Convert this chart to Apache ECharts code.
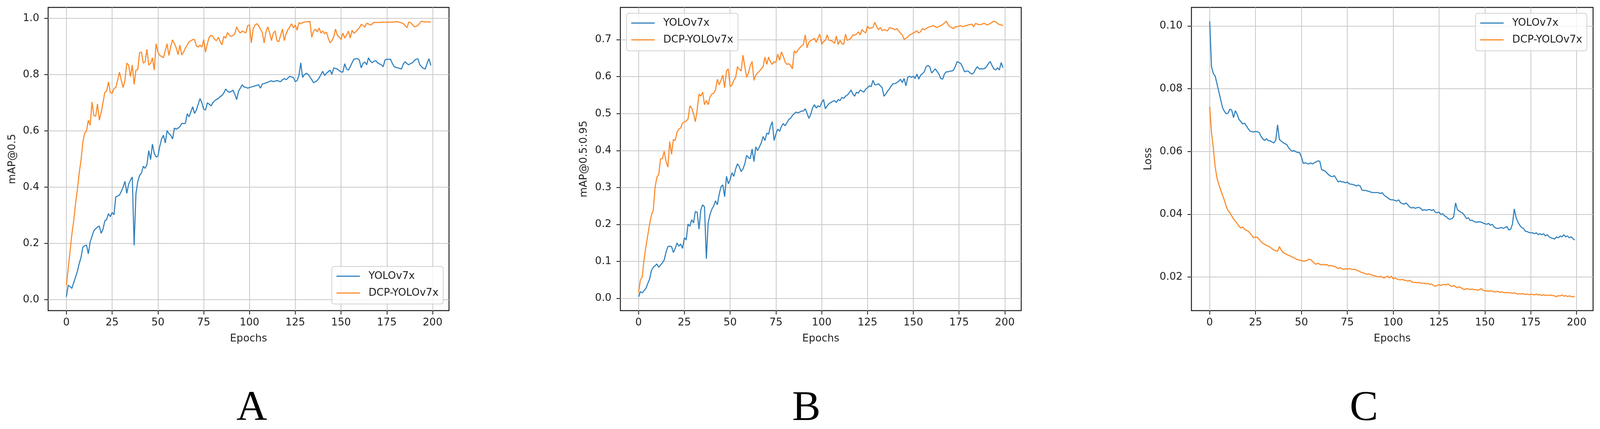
<!DOCTYPE html>
<html>
<head>
<meta charset="utf-8">
<title>YOLOv7x vs DCP-YOLOv7x</title>
<script src="https://cdn.jsdelivr.net/npm/echarts/dist/echarts.min.js"></script>
<style>
  html, body { margin: 0; padding: 0; background: #fff; overflow: hidden; }
  #chart { width: 100vw; height: 100vh; }
</style>
</head>
<body>
<div id="chart"></div>
<script>
const seriesNames = ['YOLOv7x', 'DCP-YOLOv7x']
const panelLabels = ['A', 'B', 'C']
const xTicks = [0, 25, 50, 75, 100, 125, 150, 175, 200]
const yTicksA = [0, 0.2, 0.4, 0.6, 0.8, 1.0]
const yTicksB = [0, 0.1, 0.2, 0.3, 0.4, 0.5, 0.6, 0.7]
const yTicksC = [0.02, 0.04, 0.06, 0.08, 0.10]

// mAP@0.5
const yoloA = [
  0.010, 0.051, 0.047, 0.040, 0.060, 0.080, 0.100, 0.128, 0.150, 0.186,
  0.192, 0.194, 0.163, 0.205, 0.225, 0.245, 0.252, 0.258, 0.262, 0.236,
  0.250, 0.280, 0.285, 0.306, 0.295, 0.310, 0.302, 0.366, 0.368, 0.372,
  0.385, 0.400, 0.421, 0.378, 0.410, 0.425, 0.436, 0.193, 0.377, 0.420,
  0.442, 0.450, 0.474, 0.467, 0.480, 0.530, 0.498, 0.553, 0.520, 0.507,
  0.510, 0.545, 0.571, 0.585, 0.557, 0.601, 0.590, 0.585, 0.571, 0.610,
  0.606, 0.610, 0.615, 0.627, 0.626, 0.627, 0.661, 0.650, 0.668, 0.686,
  0.662, 0.674, 0.695, 0.715, 0.700, 0.677, 0.674, 0.700, 0.695, 0.689,
  0.700, 0.707, 0.712, 0.715, 0.722, 0.726, 0.735, 0.749, 0.741, 0.737,
  0.740, 0.745, 0.730, 0.711, 0.741, 0.752, 0.764, 0.756, 0.755, 0.752,
  0.754, 0.756, 0.758, 0.760, 0.762, 0.764, 0.752, 0.767, 0.768, 0.771,
  0.773, 0.776, 0.778, 0.775, 0.777, 0.779, 0.777, 0.775, 0.782, 0.786,
  0.782, 0.788, 0.794, 0.792, 0.790, 0.775, 0.779, 0.797, 0.842, 0.790,
  0.800, 0.805, 0.801, 0.792, 0.782, 0.771, 0.775, 0.779, 0.788, 0.800,
  0.812, 0.797, 0.805, 0.810, 0.816, 0.801, 0.824, 0.822, 0.820, 0.814,
  0.810, 0.809, 0.839, 0.820, 0.816, 0.828, 0.842, 0.855, 0.856, 0.857,
  0.852, 0.824, 0.840, 0.845, 0.835, 0.860, 0.848, 0.842, 0.848, 0.850,
  0.842, 0.838, 0.835, 0.828, 0.852, 0.855, 0.854, 0.855, 0.840, 0.828,
  0.826, 0.824, 0.822, 0.820, 0.838, 0.846, 0.839, 0.835, 0.840, 0.842,
  0.850, 0.855, 0.856, 0.835, 0.828, 0.822, 0.820, 0.840, 0.857, 0.833
]
const dcpA = [
  0.050, 0.110, 0.170, 0.232, 0.280, 0.340, 0.390, 0.450, 0.495, 0.560,
  0.592, 0.600, 0.638, 0.620, 0.703, 0.655, 0.652, 0.696, 0.638, 0.665,
  0.700, 0.737, 0.742, 0.774, 0.737, 0.733, 0.751, 0.754, 0.780, 0.809,
  0.780, 0.754, 0.780, 0.841, 0.834, 0.793, 0.834, 0.765, 0.816, 0.818,
  0.878, 0.880, 0.841, 0.846, 0.890, 0.834, 0.840, 0.860, 0.816, 0.910,
  0.880, 0.868, 0.865, 0.860, 0.885, 0.910, 0.868, 0.900, 0.924, 0.910,
  0.895, 0.871, 0.905, 0.870, 0.880, 0.895, 0.905, 0.917, 0.920, 0.925,
  0.925, 0.902, 0.898, 0.905, 0.898, 0.925, 0.880, 0.910, 0.933, 0.940,
  0.936, 0.925, 0.921, 0.933, 0.917, 0.906, 0.936, 0.930, 0.950, 0.940,
  0.936, 0.940, 0.945, 0.970, 0.955, 0.948, 0.955, 0.952, 0.948, 0.974,
  0.977, 0.913, 0.962, 0.977, 0.981, 0.974, 0.962, 0.950, 0.913, 0.952,
  0.970, 0.948, 0.921, 0.948, 0.955, 0.921, 0.917, 0.940, 0.962, 0.921,
  0.945, 0.960, 0.970, 0.981, 0.966, 0.977, 0.958, 0.985, 0.981, 0.985,
  0.987, 0.988, 0.988, 0.989, 0.933, 0.955, 0.962, 0.952, 0.966, 0.948,
  0.955, 0.945, 0.952, 0.930, 0.913, 0.920, 0.935, 0.962, 0.940, 0.933,
  0.925, 0.948, 0.930, 0.940, 0.955, 0.930, 0.958, 0.947, 0.952, 0.960,
  0.966, 0.979, 0.975, 0.969, 0.983, 0.980, 0.976, 0.980, 0.986, 0.985,
  0.986, 0.985, 0.986, 0.987, 0.986, 0.986, 0.987, 0.986, 0.987, 0.987,
  0.988, 0.988, 0.986, 0.984, 0.982, 0.974, 0.967, 0.987, 0.985, 0.978,
  0.970, 0.972, 0.975, 0.984, 0.990, 0.988, 0.987, 0.988, 0.987, 0.987
]

// mAP@0.5:0.95
const yoloB = [
  0.004, 0.018, 0.015, 0.021, 0.027, 0.040, 0.052, 0.075, 0.084, 0.088,
  0.093, 0.084, 0.090, 0.096, 0.104, 0.125, 0.140, 0.141, 0.140, 0.124,
  0.135, 0.150, 0.141, 0.147, 0.135, 0.164, 0.158, 0.201, 0.195, 0.213,
  0.204, 0.235, 0.233, 0.187, 0.240, 0.253, 0.247, 0.107, 0.204, 0.227,
  0.241, 0.250, 0.264, 0.253, 0.281, 0.302, 0.307, 0.275, 0.330, 0.310,
  0.321, 0.340, 0.330, 0.350, 0.364, 0.356, 0.343, 0.350, 0.364, 0.387,
  0.381, 0.378, 0.404, 0.370, 0.410, 0.400, 0.410, 0.421, 0.438, 0.427,
  0.447, 0.444, 0.465, 0.478, 0.427, 0.445, 0.458, 0.452, 0.465, 0.473,
  0.467, 0.475, 0.484, 0.487, 0.495, 0.500, 0.504, 0.502, 0.504, 0.507,
  0.507, 0.513, 0.501, 0.487, 0.498, 0.515, 0.524, 0.515, 0.521, 0.518,
  0.530, 0.538, 0.513, 0.521, 0.527, 0.530, 0.533, 0.535, 0.530, 0.538,
  0.535, 0.544, 0.541, 0.547, 0.550, 0.556, 0.564, 0.553, 0.547, 0.558,
  0.555, 0.564, 0.561, 0.558, 0.566, 0.570, 0.575, 0.573, 0.590, 0.578,
  0.578, 0.581, 0.575, 0.570, 0.547, 0.553, 0.561, 0.567, 0.575, 0.581,
  0.581, 0.584, 0.587, 0.593, 0.584, 0.595, 0.575, 0.598, 0.601, 0.598,
  0.601, 0.595, 0.607, 0.593, 0.604, 0.608, 0.613, 0.627, 0.630, 0.627,
  0.610, 0.615, 0.621, 0.614, 0.607, 0.595, 0.593, 0.607, 0.613, 0.613,
  0.615, 0.615, 0.618, 0.628, 0.641, 0.638, 0.635, 0.625, 0.613, 0.615,
  0.615, 0.610, 0.607, 0.610, 0.620, 0.627, 0.621, 0.621, 0.621, 0.622,
  0.627, 0.635, 0.641, 0.630, 0.621, 0.618, 0.624, 0.618, 0.638, 0.624
]
const dcpB = [
  0.015, 0.050, 0.058, 0.105, 0.140, 0.170, 0.200, 0.225, 0.238, 0.300,
  0.328, 0.335, 0.378, 0.378, 0.398, 0.370, 0.355, 0.424, 0.390, 0.430,
  0.427, 0.450, 0.458, 0.461, 0.475, 0.477, 0.480, 0.485, 0.521, 0.515,
  0.500, 0.478, 0.510, 0.553, 0.547, 0.558, 0.524, 0.535, 0.524, 0.545,
  0.553, 0.555, 0.564, 0.593, 0.578, 0.590, 0.604, 0.570, 0.615, 0.621,
  0.573, 0.578, 0.590, 0.598, 0.627, 0.620, 0.615, 0.658, 0.627, 0.598,
  0.610, 0.630, 0.641, 0.590, 0.604, 0.610, 0.615, 0.621, 0.627, 0.653,
  0.633, 0.653, 0.640, 0.633, 0.641, 0.638, 0.661, 0.644, 0.667, 0.655,
  0.640, 0.633, 0.635, 0.630, 0.621, 0.670, 0.664, 0.672, 0.678, 0.683,
  0.687, 0.713, 0.678, 0.693, 0.698, 0.700, 0.704, 0.693, 0.705, 0.715,
  0.687, 0.695, 0.698, 0.713, 0.698, 0.698, 0.695, 0.690, 0.710, 0.687,
  0.698, 0.690, 0.687, 0.715, 0.698, 0.701, 0.704, 0.713, 0.712, 0.715,
  0.721, 0.713, 0.727, 0.722, 0.718, 0.737, 0.730, 0.732, 0.733, 0.747,
  0.735, 0.727, 0.733, 0.724, 0.727, 0.726, 0.724, 0.733, 0.731, 0.730,
  0.727, 0.730, 0.724, 0.718, 0.713, 0.701, 0.704, 0.707, 0.713, 0.715,
  0.718, 0.721, 0.724, 0.718, 0.722, 0.730, 0.727, 0.730, 0.733, 0.735,
  0.736, 0.738, 0.735, 0.733, 0.736, 0.738, 0.741, 0.745, 0.750, 0.741,
  0.735, 0.733, 0.730, 0.735, 0.735, 0.737, 0.738, 0.735, 0.737, 0.738,
  0.740, 0.741, 0.742, 0.735, 0.744, 0.742, 0.741, 0.741, 0.743, 0.744,
  0.740, 0.741, 0.744, 0.747, 0.750, 0.748, 0.744, 0.741, 0.740, 0.738
]

// Loss
const yoloC = [
  0.1015, 0.0870, 0.0848, 0.0840, 0.0815, 0.0790, 0.0765, 0.0740, 0.0728, 0.0720,
  0.0722, 0.0735, 0.0732, 0.0708, 0.0730, 0.0718, 0.0702, 0.0695, 0.0688, 0.0690,
  0.0682, 0.0672, 0.0665, 0.0663, 0.0662, 0.0664, 0.0663, 0.0660, 0.0648, 0.0640,
  0.0635, 0.0641, 0.0634, 0.0634, 0.0630, 0.0627, 0.0636, 0.0685, 0.0638, 0.0633,
  0.0628, 0.0625, 0.0622, 0.0612, 0.0605, 0.0601, 0.0603, 0.0599, 0.0597, 0.0596,
  0.0583, 0.0562, 0.0564, 0.0562, 0.0560, 0.0564, 0.0560, 0.0564, 0.0567, 0.0570,
  0.0569, 0.0542, 0.0540, 0.0537, 0.0531, 0.0525, 0.0521, 0.0520, 0.0523, 0.0513,
  0.0503, 0.0506, 0.0503, 0.0503, 0.0500, 0.0503, 0.0497, 0.0496, 0.0495, 0.0493,
  0.0490, 0.0493, 0.0490, 0.0477, 0.0476, 0.0476, 0.0474, 0.0473, 0.0470, 0.0469,
  0.0469, 0.0469, 0.0469, 0.0466, 0.0469, 0.0461, 0.0457, 0.0453, 0.0448, 0.0446,
  0.0446, 0.0444, 0.0442, 0.0446, 0.0437, 0.0434, 0.0432, 0.0436, 0.0430, 0.0423,
  0.0420, 0.0422, 0.0419, 0.0421, 0.0422, 0.0419, 0.0412, 0.0415, 0.0412, 0.0415,
  0.0415, 0.0412, 0.0415, 0.0406, 0.0405, 0.0407, 0.0399, 0.0402, 0.0395, 0.0392,
  0.0386, 0.0384, 0.0386, 0.0392, 0.0436, 0.0415, 0.0410, 0.0406, 0.0403, 0.0395,
  0.0386, 0.0389, 0.0380, 0.0381, 0.0377, 0.0375, 0.0375, 0.0376, 0.0375, 0.0372,
  0.0370, 0.0368, 0.0371, 0.0365, 0.0368, 0.0360, 0.0356, 0.0355, 0.0356, 0.0358,
  0.0355, 0.0358, 0.0361, 0.0350, 0.0352, 0.0368, 0.0417, 0.0390, 0.0375, 0.0365,
  0.0358, 0.0355, 0.0346, 0.0345, 0.0342, 0.0341, 0.0341, 0.0338, 0.0341, 0.0335,
  0.0338, 0.0335, 0.0338, 0.0331, 0.0335, 0.0328, 0.0325, 0.0323, 0.0321, 0.0328,
  0.0325, 0.0331, 0.0328, 0.0335, 0.0328, 0.0331, 0.0325, 0.0328, 0.0322, 0.0318
]
const dcpC = [
  0.0743, 0.0660, 0.0610, 0.0550, 0.0515, 0.0495, 0.0478, 0.0460, 0.0445, 0.0425,
  0.0412, 0.0405, 0.0395, 0.0385, 0.0378, 0.0370, 0.0362, 0.0356, 0.0360, 0.0352,
  0.0349, 0.0346, 0.0340, 0.0332, 0.0325, 0.0328, 0.0326, 0.0320, 0.0313, 0.0308,
  0.0304, 0.0301, 0.0298, 0.0295, 0.0290, 0.0286, 0.0284, 0.0282, 0.0297, 0.0286,
  0.0279, 0.0275, 0.0272, 0.0269, 0.0267, 0.0264, 0.0261, 0.0258, 0.0255, 0.0254,
  0.0252, 0.0251, 0.0251, 0.0253, 0.0257, 0.0256, 0.0250, 0.0244, 0.0241, 0.0244,
  0.0241, 0.0238, 0.0241, 0.0238, 0.0240, 0.0235, 0.0237, 0.0235, 0.0234, 0.0231,
  0.0227, 0.0230, 0.0227, 0.0224, 0.0227, 0.0225, 0.0227, 0.0225, 0.0224, 0.0225,
  0.0222, 0.0220, 0.0217, 0.0214, 0.0213, 0.0210, 0.0209, 0.0210, 0.0207, 0.0205,
  0.0204, 0.0202, 0.0200, 0.0203, 0.0200, 0.0197, 0.0200, 0.0203, 0.0197, 0.0203,
  0.0194, 0.0197, 0.0194, 0.0192, 0.0191, 0.0193, 0.0190, 0.0189, 0.0187, 0.0190,
  0.0185, 0.0183, 0.0183, 0.0182, 0.0183, 0.0181, 0.0180, 0.0181, 0.0178, 0.0180,
  0.0176, 0.0178, 0.0173, 0.0171, 0.0173, 0.0176, 0.0173, 0.0176, 0.0176, 0.0175,
  0.0178, 0.0173, 0.0170, 0.0173, 0.0169, 0.0166, 0.0169, 0.0166, 0.0162, 0.0160,
  0.0163, 0.0162, 0.0160, 0.0162, 0.0160, 0.0160, 0.0158, 0.0160, 0.0163, 0.0158,
  0.0156, 0.0156, 0.0155, 0.0156, 0.0155, 0.0153, 0.0153, 0.0155, 0.0151, 0.0153,
  0.0151, 0.0150, 0.0151, 0.0150, 0.0150, 0.0148, 0.0150, 0.0148, 0.0146, 0.0147,
  0.0146, 0.0147, 0.0144, 0.0146, 0.0144, 0.0145, 0.0145, 0.0143, 0.0146, 0.0143,
  0.0144, 0.0141, 0.0144, 0.0141, 0.0143, 0.0141, 0.0143, 0.0141, 0.0140, 0.0137,
  0.0141, 0.0140, 0.0143, 0.0139, 0.0141, 0.0138, 0.0140, 0.0138, 0.0137, 0.0139
]

const epochs = yoloA.map((v, i) => i)

const FONT = 'DejaVu Sans'
const TEXT = '#222'
const BLUE = '#3282be'
const ORANGE = '#fb8b2b'

// matplotlib-style 5% margins around the data
function pad(a, b) {
  const all = a.concat(b)
  const lo = Math.min(...all)
  const hi = Math.max(...all)
  const m = (hi - lo) * 0.05
  return { min: lo - m, max: hi + m }
}
const xRange = { min: -(epochs.length - 1) * 0.05, max: (epochs.length - 1) * 1.05 }

var myChart = echarts.init(document.getElementById('chart'))

// layout was measured on a 4155 px wide figure; stretch it to the real width
const sx = myChart.getWidth() / 4155

const panels = [
  { yName: 'mAP@0.5', ticks: yTicksA, digits: 1, nameGap: 79, left: 125, width: 1041, data: [yoloA, dcpA],
    legend: { right: 3004 * sx, bottom: 320 } },
  { yName: 'mAP@0.5:0.95', ticks: yTicksB, digits: 1, nameGap: 81, left: 1611, width: 1041, data: [yoloB, dcpB],
    legend: { left: 1627 * sx, top: 34 } },
  { yName: 'Loss', ticks: yTicksC, digits: 2, nameGap: 98, left: 3094, width: 1043, data: [yoloC, dcpC],
    legend: { right: 34 * sx, top: 34 } },
]
const labelX = [654, 2094, 3542]

var option = {
  animation: false,
  backgroundColor: '#fff',
  textStyle: { fontFamily: FONT },
  grid: panels.map((p) => ({
    left: p.left * sx, top: 19, width: p.width * sx, height: 776,
    show: true, borderColor: '#1c1c1c', borderWidth: 2.4, backgroundColor: 'transparent',
    containLabel: false, outerBoundsMode: 'none',
  })),
  xAxis: panels.map((p, i) => ({
    type: 'value', gridIndex: i, min: xRange.min, max: xRange.max,
    name: 'Epochs', nameLocation: 'middle', nameGap: 59,
    nameTextStyle: { fontSize: 26.5, color: TEXT, fontFamily: FONT },
    axisLine: { show: false, onZero: false },
    axisTick: { show: true, customValues: xTicks, length: 10, lineStyle: { color: '#1c1c1c', width: 2 } },
    axisLabel: { customValues: xTicks, margin: 18, fontSize: 26.5, color: TEXT, fontFamily: FONT },
    splitLine: { show: true, lineStyle: { color: '#c9c9c9', width: 2 } },
  })),
  yAxis: panels.map((p, i) => {
    const r = pad(p.data[0], p.data[1])
    return {
      type: 'value', gridIndex: i, min: r.min, max: r.max,
      name: p.yName, nameLocation: 'middle', nameGap: p.nameGap * sx,
      nameTextStyle: { fontSize: 26.5, color: TEXT, fontFamily: FONT },
      axisLine: { show: false, onZero: false },
      axisTick: { show: true, customValues: p.ticks, length: 10, lineStyle: { color: '#1c1c1c', width: 2 } },
      axisLabel: {
        customValues: p.ticks, margin: 23 * sx, fontSize: 26.5, color: TEXT, fontFamily: FONT,
        formatter: (v) => Number(v).toFixed(p.digits),
      },
      splitLine: { show: true, lineStyle: { color: '#c9c9c9', width: 2 } },
    }
  }),
  legend: panels.map((p) => Object.assign({
    data: seriesNames,
    orient: 'vertical',
    selectedMode: false,
    icon: 'rect',
    itemWidth: 60,
    itemHeight: 3,
    itemGap: 13,
    padding: [10, 12, 13, 12],
    backgroundColor: 'rgba(255,255,255,0.8)',
    borderColor: '#d2d2d2',
    borderWidth: 2,
    borderRadius: 6,
    textStyle: { fontSize: 26.5, lineHeight: 30, color: TEXT, fontFamily: FONT, padding: [0, 0, 0, 17] },
  }, p.legend)),
  graphic: panelLabels.map((t, i) => ({
    type: 'text', x: labelX[i] * sx, y: 1046,
    style: { text: t, fontFamily: 'Liberation Serif', fontSize: 109, fill: '#000', align: 'center', verticalAlign: 'middle' },
  })),
  series: [],
}

panels.forEach((p, i) => {
  p.data.forEach((arr, k) => {
    option.series.push({
      name: seriesNames[k],
      type: 'line',
      xAxisIndex: i,
      yAxisIndex: i,
      showSymbol: false,
      symbol: 'none',
      color: k === 0 ? BLUE : ORANGE,
      lineStyle: { width: 2.8, color: k === 0 ? BLUE : ORANGE },
      data: epochs.map((e, j) => [e, arr[j]]),
    })
  })
})

myChart.setOption(option)

window.onresize = function () {
  myChart.resize()
}
</script>
</body>
</html>
